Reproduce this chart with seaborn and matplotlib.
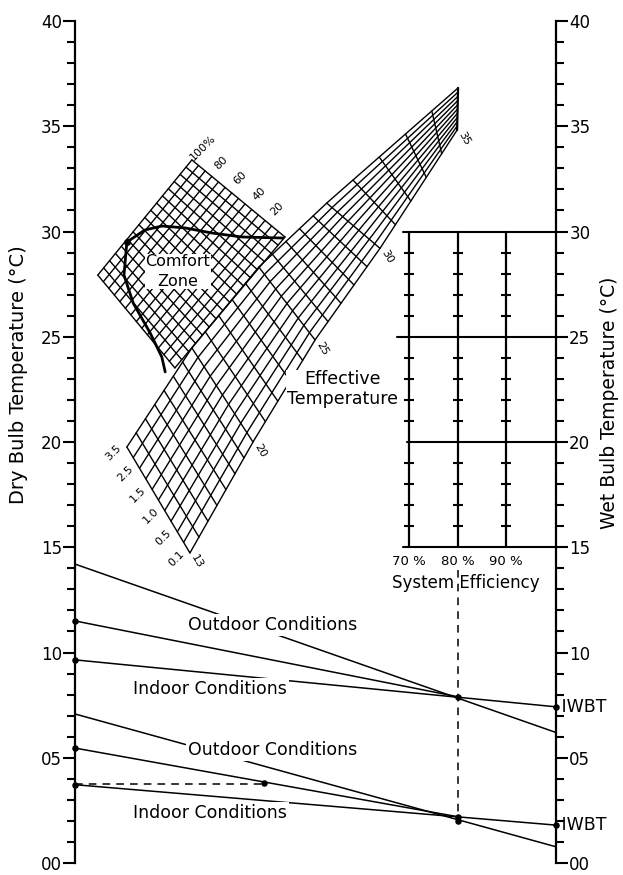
import numpy as np
import pandas as pd
import matplotlib
matplotlib.use('Agg')
import matplotlib.pyplot as plt
import seaborn as sns

# ---------------- values ----------------
# temperature scales (deg C), left = dry bulb, right = wet bulb
major_ticks = [0, 5, 10, 15, 20, 25, 30, 35, 40]
major_labels = ['00', '05', '10', '15', '20', '25', '30', '35', '40']
minor_ticks = list(range(0, 41))

# system efficiency block
eff_values = [70, 80, 90]
eff_labels = ['70 %', '80 %', '90 %']
eff_rows = [15, 20, 25, 30]
eff_row_start = [68.7, 69.6, 67.5, 68.7]

# construction lines (x on efficiency scale, y in deg C)
lines = {
    'outdoor_hi': ([1.1, 100.3], [14.2, 6.2]),
    'indoor_hi_a': ([1.1, 80], [11.5, 7.9]),
    'indoor_hi_b': ([1.1, 100.3], [9.65, 7.42]),
    'outdoor_lo': ([1.1, 100.3], [7.08, 0.77]),
    'indoor_lo_a': ([1.1, 80], [5.46, 2.2]),
    'indoor_lo_b': ([1.1, 100.3], [3.72, 1.8]),
}
dash_lo = ([1.1, 40], [3.75, 3.75])
dash_eff = ([80, 80], [13.9, 1.98])
dots_x = [1.1, 1.1, 1.1, 1.1, 80, 80, 80, 100.3, 100.3, 40]
dots_y = [11.5, 9.65, 5.46, 3.72, 7.9, 2.2, 1.98, 7.42, 1.8, 3.8]

# effective temperature band: edges at a few ET values
et_anchor = [13, 20, 25, 30, 35]
et_low_x = [24.8, 37.8, 50.6, 64.0, 79.9]
et_low_y = [14.73, 20.0, 24.85, 29.2, 34.82]
et_up_x = [11.8, 25.2, 39.0, 53.0, 80.1]
et_up_y = [19.76, 24.47, 28.31, 31.35, 36.82]
et_labels = ['13', '20', '25', '30', '35']
air_vel = [0.1, 0.25, 0.5, 0.75, 1.0, 1.25, 1.5, 2.0, 2.5, 3.0, 3.5]
air_vel_labels = {3.5: '3.5', 2.5: '2.5', 1.5: '1.5', 1.0: '1.0', 0.5: '0.5', 0.1: '0.1'}

# comfort grid (relative humidity chart) corners
cz_top = (25.2, 33.4)
cz_right = (44.4, 29.74)
cz_left = (5.8, 27.93)
cz_bottom = (21.7, 23.52)
rh_divisions = 14
rh_labels = {100: '100%', 80: '80', 60: '60', 40: '40', 20: '20'}
cz_cross_lines = 17

# comfort zone outline
comfort_x = [19.7, 19.0, 16.6, 13.1, 11.2, 11.8, 15.5, 19.0, 23.8, 29.3, 35.5, 44.0]
comfort_y = [23.33, 24.04, 25.18, 26.6, 27.93, 29.5, 30.07, 30.26, 30.17, 29.93, 29.74, 29.69]

# ---------------- figure ----------------
sns.set_style('white')
plt.rcParams['font.family'] = ['DejaVu Sans']
plt.rcParams['axes.unicode_minus'] = False
plt.rcParams['text.color'] = 'black'
plt.rcParams['axes.labelcolor'] = 'black'
plt.rcParams['ytick.color'] = 'black'
plt.rcParams['ytick.labelcolor'] = 'black'

fig = plt.figure(figsize=(6.23, 8.75), dpi=100)
ax = fig.add_axes([0.1204, 0.0137, 0.7721, 0.9623])
ax.set_xlim(1.1, 100.3)
ax.set_ylim(0, 40)

for s in ['top', 'bottom']:
    ax.spines[s].set_visible(False)
for s in ['left', 'right']:
    ax.spines[s].set_linewidth(1.6)
    ax.spines[s].set_color('black')

ax.set_xticks([])
ax.set_yticks(major_ticks)
ax.set_yticklabels(major_labels)
ax.set_yticks(minor_ticks, minor=True)
ax.tick_params(axis='y', which='both', left=True, right=True, labelleft=True,
               labelright=True, direction='out', width=1.5, colors='black', labelsize=12, pad=1)
ax.tick_params(axis='y', which='major', length=8.5)
ax.tick_params(axis='y', which='minor', length=5.5)

ax.text(-0.117, 23.2, 'Dry Bulb Temperature (°C)', transform=ax.get_yaxis_transform(),
        rotation=90, ha='center', va='center', fontsize=14, color='black')
ax.text(1.112, 21.85, 'Wet Bulb Temperature (°C)', transform=ax.get_yaxis_transform(),
        rotation=90, ha='center', va='center', fontsize=13.5, color='black')

# ---- bottom construction lines ----
rows = []
for name, (xs, ys) in lines.items():
    for x, y in zip(xs, ys):
        rows.append({'line': name, 'x': x, 'y': y})
df_lines = pd.DataFrame(rows)
sns.lineplot(data=df_lines, x='x', y='y', units='line', estimator=None, sort=False,
             color='black', lw=1.1, ax=ax, legend=False)
ax.plot(*dash_lo, color='black', lw=1.1, ls=(0, (5, 4)))
ax.plot(*dash_eff, color='black', lw=1.1, ls=(0, (5, 4)))
sns.scatterplot(x=dots_x, y=dots_y, color='black', s=22, ax=ax, zorder=5,
                edgecolor='black', linewidth=0, clip_on=False, legend=False)
ax.set_xlabel('')
ax.set_ylabel('')

txt_kw = dict(fontsize=12.5, ha='center', va='center', zorder=6, color='black',
              bbox=dict(fc='white', ec='none', pad=1.5))
ax.text(41.9, 11.3, 'Outdoor Conditions', **txt_kw)
ax.text(41.9, 5.37, 'Outdoor Conditions', **txt_kw)
ax.text(28.9, 8.27, 'Indoor Conditions', **txt_kw)
ax.text(28.9, 2.38, 'Indoor Conditions', **txt_kw)
ax.text(100.3, 7.42, ' IWBT', fontsize=12.5, ha='left', va='center', color='black')
ax.text(100.3, 1.8, ' IWBT', fontsize=12.5, ha='left', va='center', color='black')

# ---- system efficiency block ----
for y, x0 in zip(eff_rows, eff_row_start):
    ax.plot([x0, 100.3], [y, y], color='black', lw=1.5)
tick_y = [v for v in range(16, 30) if v % 5 != 0]
for x, lab in zip(eff_values, eff_labels):
    ax.plot([x, x], [15, 30], color='black', lw=1.6)
    ax.plot([x] * len(tick_y), tick_y, ls='none', marker='_', ms=6.5, mew=1.5, color='black')
    ax.text(x, 14.3, lab, fontsize=9.5, ha='center', va='center', color='black')
ax.text(81.7, 13.3, 'System Efficiency', fontsize=12, ha='center', va='center', color='black')

# ---- comfort (relative humidity) grid ----
T, R, L, B = [np.array(p) for p in (cz_top, cz_right, cz_left, cz_bottom)]
for u in np.linspace(0, 1, rh_divisions + 1):
    p0 = T + u * (R - T)
    p1 = L + u * (B - L)
    ax.plot([p0[0], p1[0]], [p0[1], p1[1]], color='black', lw=1.0)
for rh, lab in rh_labels.items():
    u = (100 - rh) / 100
    p0 = T + u * (R - T)
    ax.annotate(lab, (p0[0], p0[1]), xytext=(8, 9), textcoords='offset points',
                rotation=45, fontsize=8, ha='center', va='center', color='black')
for v in np.linspace(0, 1, cz_cross_lines):
    p0 = T + v * (L - T)
    p1 = R + v * (B - R)
    ax.plot([p0[0], p1[0]], [p0[1], p1[1]], color='black', lw=1.0)

ax.plot(comfort_x, comfort_y, color='black', lw=2.0, zorder=4, solid_capstyle='round')
ax.plot(comfort_x[5], comfort_y[5], 'o', color='black', ms=4, zorder=4)
ax.text(22.3, 28.1, 'Comfort\nZone', fontsize=11.5, ha='center', va='center', zorder=6,
        linespacing=1.35, color='black', bbox=dict(fc='white', ec='none', pad=0.5))

# ---- effective temperature band ----
t_fine = np.linspace(et_anchor[0], et_anchor[-1], 200)
lx = np.interp(t_fine, et_anchor, et_low_x)
ly = np.interp(t_fine, et_anchor, et_low_y)
ux = np.interp(t_fine, et_anchor, et_up_x)
uy = np.interp(t_fine, et_anchor, et_up_y)
n_vel = len(air_vel)
for i, vel in enumerate(air_vel):
    f = i / (n_vel - 1)
    ax.plot(lx + f * (ux - lx), ly + f * (uy - ly), color='black', lw=1.0)
    if vel in air_vel_labels:
        ax.annotate(air_vel_labels[vel], (lx[0] + f * (ux[0] - lx[0]), ly[0] + f * (uy[0] - ly[0])),
                    xytext=(-10, -4), textcoords='offset points', rotation=45,
                    fontsize=8, ha='center', va='center', color='black')
for t in range(et_anchor[0], et_anchor[-1] + 1):
    x0 = np.interp(t, et_anchor, et_low_x)
    y0 = np.interp(t, et_anchor, et_low_y)
    x1 = np.interp(t, et_anchor, et_up_x)
    y1 = np.interp(t, et_anchor, et_up_y)
    lw = 1.6 if t == et_anchor[-1] else 1.0
    ax.plot([x0, x1], [y0, y1], color='black', lw=lw)
for t, lab in zip(et_anchor, et_labels):
    x0 = np.interp(t, et_anchor, et_low_x)
    y0 = np.interp(t, et_anchor, et_low_y)
    ax.annotate(lab, (x0, y0), xytext=(5, -6), textcoords='offset points', rotation=-60,
                fontsize=8, ha='center', va='center', color='black')
ax.text(56.2, 22.5, 'Effective\nTemperature', fontsize=12.5, ha='center', va='center',
        zorder=6, linespacing=1.15, color='black', bbox=dict(fc='white', ec='none', pad=0.3))

fig.savefig('out.png', dpi=100)
